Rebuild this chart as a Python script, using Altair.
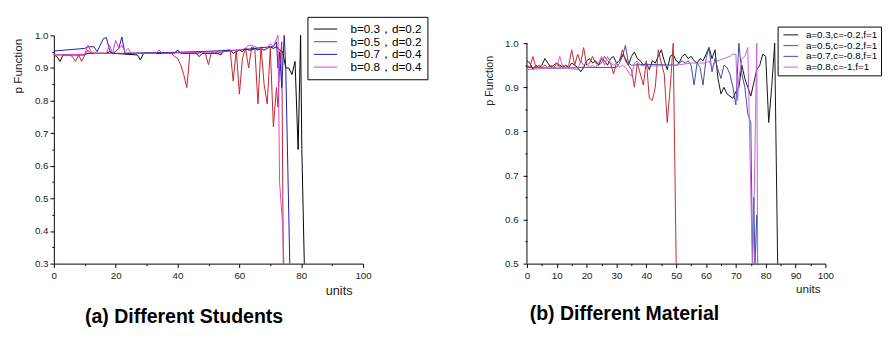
import altair as alt
import pandas as pd

# ---------------- Panel (a): Different Students ----------------
names_a = ["b=0.3，d=0.2", "b=0.5，d=0.2", "b=0.7，d=0.4", "b=0.8，d=0.4"]
colors_a = ["#000000", "#c42228", "#1a1aa6", "#d840d8"]

a_b03_x = [0, 1, 2, 3, 10, 11, 17, 18, 19, 27, 28, 29, 39, 40, 41, 46, 47, 48, 53, 54,
           55, 56, 57, 58, 59, 60, 61, 62, 63, 64, 65, 66, 67, 68, 69, 70, 71, 72, 73, 74,
           75, 76, 77, 78, 79, 79.8, 80.2, 81]
a_b03_y = [0.94, 0.935, 0.92, 0.94, 0.94, 0.945, 0.945, 0.95, 0.945, 0.94, 0.925, 0.945,
           0.945, 0.955, 0.945, 0.945, 0.935, 0.945, 0.945, 0.94,
           0.955, 0.95, 0.955, 0.945, 0.95, 0.955, 0.95, 0.96, 0.955, 0.955, 0.96, 0.955,
           0.96, 0.955, 0.96, 0.965, 0.96, 0.965, 0.955, 0.95, 0.9, 0.9, 0.88, 0.92,
           0.65, 1.0, 0.65, 0.3]

a_b05_x = [0, 5, 6, 7, 8, 9, 10, 11, 12, 33, 34, 35, 38, 39, 40, 41, 42, 43, 44,
           47, 48, 49, 50, 51, 52, 53, 54, 55, 56, 57, 58, 59, 60, 61, 62, 63, 64, 65,
           66, 67, 68, 69, 70, 71, 72, 72.5, 73, 73.7, 74.2]
a_b05_y = [0.94, 0.94, 0.935, 0.92, 0.94, 0.92, 0.94, 0.955, 0.945, 0.945, 0.955, 0.945,
           0.945, 0.935, 0.93, 0.91, 0.88, 0.84, 0.945,
           0.945, 0.95, 0.945, 0.91, 0.95, 0.945, 0.95, 0.945, 0.95, 0.955, 0.955, 0.86,
           0.955, 0.82, 0.93, 0.96, 0.9, 0.965, 0.96, 0.79, 0.965, 0.85, 0.79, 0.96,
           0.72, 0.84, 0.78, 0.9, 0.98, 0.3]

a_b07_x = [0, 10, 11, 13, 14, 15, 16, 17, 18, 19, 20, 21, 22, 23, 40, 60, 70, 71, 72,
           72.5, 73, 73.7, 74.5, 75, 76.3]
a_b07_y = [0.952, 0.96, 0.965, 0.965, 0.95, 0.97, 0.99, 0.993, 0.955, 0.945, 0.95, 0.96,
           0.995, 0.945, 0.948, 0.955, 0.965, 0.965, 0.98, 0.9, 0.95, 0.84, 1.0, 0.9, 0.3]

a_b08_x = [0, 10, 11, 12, 13, 17, 18, 19, 20, 21, 22, 23, 24, 25, 33, 34, 35, 55, 60,
           62, 63, 64, 65, 67, 68, 69, 70, 71, 72, 72.5, 73, 74, 74.4]
a_b08_y = [0.94, 0.942, 0.97, 0.95, 0.945, 0.945, 0.97, 0.945, 0.985, 0.96, 0.97, 0.95,
           0.96, 0.945, 0.945, 0.955, 0.945, 0.95, 0.955, 0.96, 0.97, 0.97, 0.965, 0.96,
           0.955, 0.96, 0.975, 0.965, 0.99, 1.0, 0.55, 0.42, 0.3]

# ---------------- Panel (b): Different Material ----------------
names_b = ["a=0.3,c=-0.2,f=1", "a=0.5,c=-0.2,f=1", "a=0.7,c=-0.8,f=1", "a=0.8,c=-1,f=1"]
colors_b = ["#111111", "#c42830", "#3c4aa8", "#c95ee0"]

b_a03_x = list(range(85))
b_a03_y = [0.96, 0.955, 0.94, 0.95, 0.945, 0.95, 0.965, 0.955, 0.945, 0.95,
           0.955, 0.95, 0.945, 0.95, 0.945, 0.955, 0.95, 0.945, 0.935, 0.945,
           0.96, 0.965, 0.955, 0.96, 0.95, 0.965, 0.96, 0.95, 0.965, 0.97,
           0.955, 0.96, 0.975, 0.965, 0.95, 0.97, 0.98, 0.965, 0.96, 0.95,
           0.955, 0.94, 0.96, 0.955, 0.97, 0.985, 0.96, 0.94, 0.97, 0.975,
           0.96, 0.955, 0.97, 0.975, 0.965, 0.97, 0.96, 0.955, 0.965, 0.96,
           0.975, 0.99, 0.965, 0.985, 0.92, 0.885, 0.9, 0.885, 0.88, 0.875,
           0.89, 0.9, 0.95, 0.92, 0.9, 0.88, 0.91, 0.94, 0.95, 0.975,
           0.97, 0.82, 0.9, 1.0, 0.5]

b_a05_x = list(range(51))
b_a05_y = [0.95, 0.945, 0.97, 0.945, 0.95, 0.945, 0.95, 0.945, 0.95, 0.945,
           0.955, 0.945, 0.95, 0.945, 0.95, 0.985, 0.95, 0.975, 0.955, 0.99,
           0.95, 0.955, 0.97, 0.955, 0.95, 0.955, 0.97, 0.96, 0.955, 0.93,
           0.955, 0.96, 0.985, 0.96, 0.95, 0.94, 0.9, 0.955, 0.93, 0.905,
           0.96, 0.875, 0.87, 0.9, 0.985, 0.955, 0.93, 0.82, 0.9, 1.0,
           0.5]

b_a07_x = [0, 10, 20, 30, 31, 32, 33, 34, 35, 40, 50, 51, 52, 53, 54, 55, 56, 57, 58,
           59, 60, 61, 62, 63, 64, 65, 66, 67, 68, 69, 70, 71, 72, 73, 74, 75, 75.6, 76,
           76.4, 77, 77.3]
b_a07_y = [0.945, 0.943, 0.945, 0.945, 0.955, 0.97, 0.995, 0.955, 0.95, 0.952, 0.95,
           0.955, 0.96, 0.955, 0.96, 0.95, 0.905, 0.955, 0.945, 0.905, 0.965, 0.99, 0.935,
           0.965, 0.94, 0.92, 0.95, 0.945, 0.93, 0.9, 0.86, 1.0, 0.93, 0.9, 0.84, 0.82,
           0.5, 0.65, 0.5, 0.61, 0.5]

b_a08_x = [0, 10, 11, 12, 17, 18, 19, 20, 21, 22, 23, 24, 25, 26, 27, 28, 29, 30, 31, 32,
           33, 34, 35, 36, 37, 38, 40, 50, 55, 60, 61, 62, 63, 64, 66, 68, 69, 70, 70.6,
           71, 72, 73, 74, 75.5, 76, 77, 77.3]
b_a08_y = [0.94, 0.945, 0.97, 0.945, 0.94, 0.96, 0.95, 0.955, 0.945, 0.95, 0.945, 0.955,
           0.97, 0.95, 0.97, 0.955, 0.95, 0.955, 0.945, 0.95, 0.945, 0.935, 0.925, 0.955,
           0.96, 0.95, 0.948, 0.95, 0.955, 0.955, 0.96, 0.945, 0.955, 0.96, 0.965, 0.97,
           0.975, 0.975, 0.87, 0.92, 0.965, 0.97, 0.99, 0.5, 0.6, 1.0, 0.5]

# tick values
a_x_ticks = [0, 10, 20, 30, 40, 50, 60, 70, 80, 90, 100]
a_y_ticks = [0.3, 0.35, 0.4, 0.45, 0.5, 0.55, 0.6, 0.65, 0.7, 0.75, 0.8, 0.85, 0.9, 0.95, 1.0]
b_x_ticks = [0, 5, 10, 15, 20, 25, 30, 35, 40, 45, 50, 55, 60, 65, 70, 75, 80, 85, 90, 95, 100]
b_y_ticks = [0.5, 0.55, 0.6, 0.65, 0.7, 0.75, 0.8, 0.85, 0.9, 0.95, 1.0]


def build(names, xs, ys):
    rows = []
    for n, xl, yl in zip(names, xs, ys):
        for i, (x, y) in enumerate(zip(xl, yl)):
            rows.append({"series": n, "x": x, "y": y, "i": i})
    return pd.DataFrame(rows)


df_a = build(names_a, [a_b03_x, a_b05_x, a_b07_x, a_b08_x], [a_b03_y, a_b05_y, a_b07_y, a_b08_y])
df_b = build(names_b, [b_a03_x, b_a05_x, b_a07_x, b_a08_x], [b_a03_y, b_a05_y, b_a07_y, b_a08_y])

FONT = "Liberation Sans, Arial, sans-serif"
MAJOR_Y = "abs(datum.value*10 - round(datum.value*10)) < 0.001"

common_axis = dict(grid=False, domainColor="#000000", tickColor="#000000",
                   labelFont=FONT, labelColor="#222222", labelFontSize=10,
                   titleFont=FONT, titleColor="#222222", titleFontWeight="normal",
                   labelOverlap=False, labelFlush=False)

x_axis_a = alt.Axis(values=a_x_ticks, title="units",
                    labelExpr="datum.value % 20 === 0 ? datum.label : ''",
                    tickSize={"condition": {"test": "datum.value % 20 !== 0", "value": 2}, "value": 4},
                    labelPadding=3, titleX=292, titleY=32, titleAlign="center",
                    titleBaseline="alphabetic", titleFontSize=13, **common_axis)
y_axis_a = alt.Axis(values=a_y_ticks, title="p Function",
                    labelExpr=MAJOR_Y + " ? format(datum.value, '.1f') : ''",
                    tickSize={"condition": {"test": "!(" + MAJOR_Y + ")", "value": 2}, "value": 4},
                    labelPadding=2, titleAngle=270, titleX=-37, titleY=31, titleAlign="center",
                    titleBaseline="middle", titleFontSize=12, **common_axis)

x_axis_b = alt.Axis(values=b_x_ticks, title="units",
                    labelExpr="datum.value % 10 === 0 ? datum.label : ''",
                    tickSize={"condition": {"test": "datum.value % 10 !== 0", "value": 2}, "value": 4},
                    labelPadding=3, titleX=288, titleY=30, titleAlign="center",
                    titleBaseline="alphabetic", titleFontSize=12, **common_axis)
y_axis_b = alt.Axis(values=b_y_ticks, title="p Function", domain=False,
                    labelExpr=MAJOR_Y + " ? format(datum.value, '.1f') : ''",
                    tickSize={"condition": {"test": "!(" + MAJOR_Y + ")", "value": 2}, "value": 4},
                    labelPadding=5, titleAngle=270, titleX=-38, titleY=46, titleAlign="center",
                    titleBaseline="middle", titleFontSize=11, **common_axis)

legend_common = dict(title=None, orient="none", fillColor="white", strokeColor="#000000",
                     symbolStrokeWidth=1, labelFont=FONT, labelColor="#000000")

W_A, W_B, H = 317, 306, 234

lines_a = alt.Chart(df_a).mark_line(strokeWidth=1).encode(
    x=alt.X("x:Q", scale=alt.Scale(domain=[0, 100], nice=False), axis=x_axis_a),
    y=alt.Y("y:Q", scale=alt.Scale(domain=[0.3, 1.0], nice=False, zero=False), axis=y_axis_a),
    color=alt.Color("series:N", sort=names_a,
                    scale=alt.Scale(domain=names_a, range=colors_a),
                    legend=alt.Legend(legendX=260, legendY=-19, padding=6,
                                      symbolType="M-2,0H2", symbolSize=144,
                                      symbolOffset=6, labelOffset=19, rowPadding=-2,
                                      labelFontSize=12, **legend_common)),
    order="i:Q",
)

panel_a = lines_a.properties(
    width=W_A, height=H,
    title=alt.TitleParams("(a) Different Students", orient="bottom", anchor="middle",
                          frame="group", dx=-25, offset=10, fontSize=20,
                          font="Liberation Sans Narrow, Arial Narrow, Liberation Sans",
                          fontWeight="bold", color="#000000"),
)

y_scale_b = alt.Scale(domain=[0.5, 1.0177], nice=False, zero=False)
axis_line_b = pd.DataFrame({"y0": [b_y_ticks[0]], "y1": [b_y_ticks[-1]]})

rule_b = alt.Chart(axis_line_b).mark_rule(color="#000000", strokeWidth=1).encode(
    x=alt.value(0),
    y=alt.Y("y0:Q", scale=y_scale_b, axis=y_axis_b),
    y2="y1:Q",
)

lines_b = alt.Chart(df_b).mark_line(strokeWidth=1).encode(
    x=alt.X("x:Q", scale=alt.Scale(domain=[0, 100], nice=False), axis=x_axis_b),
    y=alt.Y("y:Q", scale=y_scale_b, axis=y_axis_b),
    color=alt.Color("series:N", sort=names_b,
                    scale=alt.Scale(domain=names_b, range=colors_b),
                    legend=alt.Legend(legendX=257, legendY=-9, padding=3,
                                      symbolType="M-1.5,0H1.5", symbolSize=100,
                                      symbolOffset=5, labelOffset=10, rowPadding=0,
                                      labelFontSize=10, **legend_common)),
    order="i:Q",
)

panel_b = alt.layer(rule_b, lines_b).properties(
    width=W_B, height=H,
    title=alt.TitleParams("(b) Different Material", orient="bottom", anchor="middle",
                          frame="group", dx=-53, offset=10, fontSize=20,
                          font="Liberation Sans Narrow, Arial Narrow, Liberation Sans",
                          fontWeight="bold", color="#000000"),
)

chart = alt.hconcat(panel_a, panel_b, spacing=168, bounds="flush").resolve_scale(
    color="independent"
).resolve_legend(color="independent").properties(
    padding={"left": 4, "top": 4, "right": 0, "bottom": 0},
    background="white",
).configure_view(stroke=None)

chart.save("out.html", embed_options={"renderer": "svg", "actions": False})
